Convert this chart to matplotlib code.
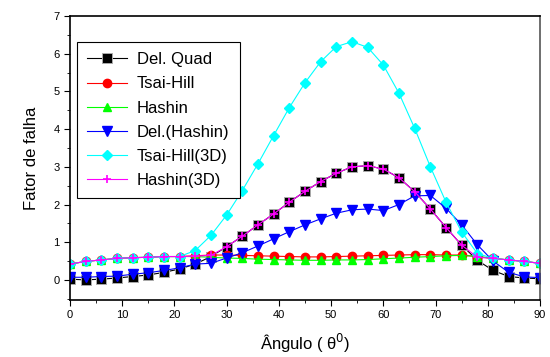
import numpy as np
import matplotlib
matplotlib.use("Agg")
from matplotlib import pyplot as plt
from matplotlib.ticker import MultipleLocator

plt.rcParams['font.family'] = ['Liberation Sans', 'DejaVu Sans']

angulo = list(range(0, 91, 3))

del_quad = [0.02, 0.0, 0.02, 0.05, 0.09, 0.13, 0.2, 0.29, 0.42, 0.62, 0.88,
            1.16, 1.46, 1.75, 2.06, 2.35, 2.61, 2.83, 3.0, 3.03, 2.94, 2.71,
            2.34, 1.88, 1.39, 0.92, 0.52, 0.25, 0.09, 0.05, 0.03]
tsai_hill = [0.42, 0.49, 0.53, 0.57, 0.59, 0.6, 0.62, 0.62, 0.64, 0.66, 0.66,
             0.65, 0.64, 0.63, 0.62, 0.61, 0.61, 0.62, 0.63, 0.64, 0.65, 0.66,
             0.67, 0.67, 0.66, 0.66, 0.62, 0.57, 0.53, 0.49, 0.44]
hashin = [0.42, 0.49, 0.53, 0.57, 0.59, 0.6, 0.62, 0.62, 0.62, 0.6, 0.58,
          0.57, 0.55, 0.54, 0.53, 0.52, 0.52, 0.53, 0.53, 0.54, 0.56, 0.58,
          0.6, 0.62, 0.64, 0.65, 0.62, 0.57, 0.53, 0.49, 0.44]
del_hashin = [0.07, 0.07, 0.09, 0.1, 0.15, 0.19, 0.25, 0.32, 0.42, 0.44, 0.58,
              0.72, 0.9, 1.09, 1.28, 1.46, 1.62, 1.77, 1.86, 1.88, 1.84, 2.0,
              2.23, 2.24, 1.9, 1.46, 0.93, 0.5, 0.2, 0.08, 0.06]
tsai_hill_3d = [0.42, 0.49, 0.53, 0.57, 0.59, 0.6, 0.62, 0.62, 0.78, 1.18, 1.72,
                2.37, 3.08, 3.83, 4.57, 5.23, 5.79, 6.19, 6.32, 6.17, 5.7, 4.95,
                4.02, 3.0, 2.06, 1.27, 0.7, 0.57, 0.53, 0.49, 0.44]
hashin_3d = [0.42, 0.49, 0.53, 0.57, 0.59, 0.6, 0.62, 0.62, 0.63, 0.65, 0.88,
             1.16, 1.46, 1.75, 2.06, 2.35, 2.61, 2.83, 3.0, 3.03, 2.94, 2.71,
             2.34, 1.88, 1.39, 0.92, 0.6, 0.57, 0.53, 0.49, 0.44]

fig, ax = plt.subplots(figsize=(5.5, 3.57), dpi=100)
fig.subplots_adjust(left=0.127, right=0.982, top=0.955, bottom=0.16)

ms = 6
ax.plot(angulo, del_quad, '-s', color='black', mec='#aaaaaa', mew=0.7, ms=ms + 0.5, lw=0.8, label='Del. Quad')
ax.plot(angulo, tsai_hill, '-o', color='red', ms=ms, lw=0.8, label='Tsai-Hill')
ax.plot(angulo, hashin, '-^', color='#00ff00', ms=ms, lw=0.8, label='Hashin')
ax.plot(angulo, del_hashin, '-v', color='blue', ms=ms + 1, lw=0.8, label='Del.(Hashin)')
ax.plot(angulo, tsai_hill_3d, '-D', color='cyan', ms=ms - 0.5, lw=0.8, label='Tsai-Hill(3D)')
ax.plot(angulo, hashin_3d, '-+', color='magenta', ms=ms, mew=1.2, lw=0.8, label='Hashin(3D)')

ax.set_xlim(0, 90)
ax.set_ylim(-0.53, 7)
ax.xaxis.set_major_locator(MultipleLocator(10))
ax.xaxis.set_minor_locator(MultipleLocator(5))
ax.yaxis.set_major_locator(MultipleLocator(1))
ax.yaxis.set_minor_locator(MultipleLocator(0.5))
ax.tick_params(which='both', direction='out', top=False, right=False, labelsize=8)
ax.tick_params(which='major', length=4)
ax.tick_params(which='minor', length=2.5)
for s in ax.spines.values():
    s.set_linewidth(1.2)
ax.spines['right'].set_color('#555555')

ax.set_xlabel('Ângulo ( θ$^0$)', fontsize=12, labelpad=8)
ax.set_ylabel('Fator de falha', fontsize=12, labelpad=10)

leg = ax.legend(loc='upper left', bbox_to_anchor=(0.015, 0.908), fontsize=12,
                handlelength=2.4, handletextpad=0.6, labelspacing=0.55, borderpad=0.6,
                borderaxespad=0, fancybox=False, edgecolor='black', framealpha=1)
leg.get_frame().set_linewidth(0.8)

fig.savefig('out.png', dpi=100)
